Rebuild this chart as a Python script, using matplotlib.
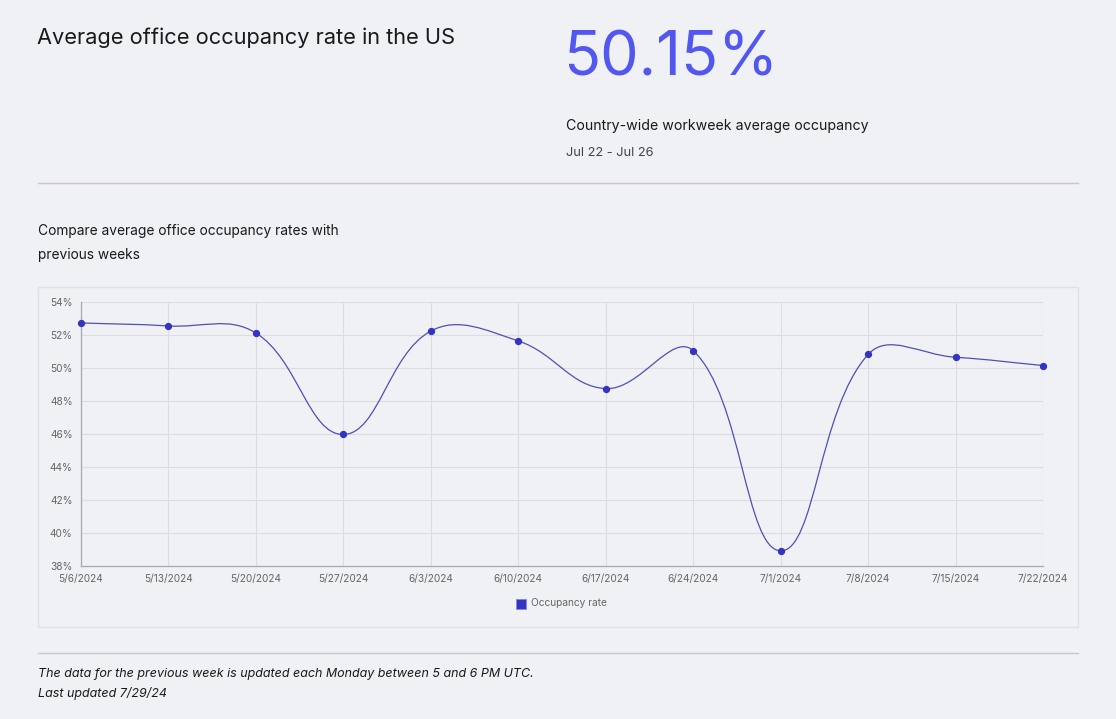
import numpy as np
import matplotlib
matplotlib.use("Agg")
import matplotlib.pyplot as plt
from matplotlib.patches import Rectangle
from matplotlib.path import Path
from matplotlib.patches import PathPatch
from matplotlib.lines import Line2D

weeks = ["5/6/2024", "5/13/2024", "5/20/2024", "5/27/2024", "6/3/2024", "6/10/2024",
         "6/17/2024", "6/24/2024", "7/1/2024", "7/8/2024", "7/15/2024", "7/22/2024"]
occupancy = [52.73, 52.55, 52.12, 45.97, 52.24, 51.64, 48.75, 51.05, 38.92, 50.82, 50.65, 50.15]
y_ticks = [38, 40, 42, 44, 46, 48, 50, 52, 54]

BG = "#f0f1f5"
LINE = "#4f4fb8"
DOT = "#3434c4"
plt.rcParams["font.family"] = ["Inter", "DejaVu Sans"]

W, H = 1116, 719
fig = plt.figure(figsize=(W / 100, H / 100), dpi=100, facecolor=BG)


def fx(px):
    return px / W


def fy(py):
    return 1 - py / H


# header
fig.text(fx(37), fy(38), "Average office occupancy rate in the US", fontsize=15.7,
         color="#1a1a1a", va="center", ha="left")
fig.text(fx(563), fy(60), "50.15%", fontsize=44, color="#5257ef", va="center", ha="left")
fig.text(fx(566), fy(126), "Country-wide workweek average occupancy", fontsize=10.2,
         color="#1a1a1a", va="center", ha="left")
fig.text(fx(566), fy(153), "Jul 22 - Jul 26", fontsize=9.2, color="#444444",
         va="center", ha="left")
fig.add_artist(Line2D([fx(38), fx(1078)], [fy(183), fy(183)], color="#c8c8cc", lw=1))

fig.text(fx(38), fy(231), "Compare average office occupancy rates with", fontsize=9.9,
         color="#1a1a1a", va="center", ha="left")
fig.text(fx(38), fy(255), "previous weeks", fontsize=9.9, color="#1a1a1a",
         va="center", ha="left")

# chart box (behind the axes)
box = Rectangle((fx(38), fy(627)), fx(1078 - 38), (627 - 287) / H,
                transform=fig.transFigure, fc=BG, ec="#e0e1e6", lw=1, zorder=-5)
fig.add_artist(box)

ax = fig.add_axes([fx(81), fy(566), fx(1043 - 81), (566 - 302) / H])
ax.set_facecolor("none")
x = np.arange(len(weeks))
ax.set_xlim(0, len(weeks) - 1)
ax.set_ylim(38, 54)
ax.set_xticks(x)
ax.set_xticklabels(weeks)
ax.set_yticks(y_ticks)
ax.set_yticklabels([f"{v}%" for v in y_ticks])
ax.tick_params(length=0, labelsize=7.3, colors="#666666")
ax.tick_params(axis="x", pad=6)
ax.tick_params(axis="y", pad=6)
ax.grid(True, color="#dcdce2", lw=0.8)
ax.set_axisbelow(True)
for side in ["top", "right"]:
    ax.spines[side].set_visible(False)
for side in ["left", "bottom"]:
    ax.spines[side].set_color("#a8a8ae")
    ax.spines[side].set_linewidth(0.9)
ax.axvline(len(weeks) - 1, color="#dcdce2", lw=0.8, zorder=0)

# Chart.js-style cubic spline (tension 0.4) computed in pixel space
pts = ax.transData.transform(np.column_stack([x, occupancy]))
t = 0.4
n = len(pts)
cp_prev = np.zeros_like(pts)
cp_next = np.zeros_like(pts)
for i in range(n):
    p0 = pts[max(i - 1, 0)]
    p1 = pts[i]
    p2 = pts[min(i + 1, n - 1)]
    d01 = np.hypot(*(p1 - p0))
    d12 = np.hypot(*(p2 - p1))
    s = d01 + d12
    s01 = d01 / s if s else 0
    s12 = d12 / s if s else 0
    cp_prev[i] = p1 - t * s01 * (p2 - p0)
    cp_next[i] = p1 + t * s12 * (p2 - p0)
verts = [pts[0]]
codes = [Path.MOVETO]
for i in range(n - 1):
    verts += [cp_next[i], cp_prev[i + 1], pts[i + 1]]
    codes += [Path.CURVE4] * 3
inv = ax.transData.inverted()
verts = inv.transform(np.array(verts))
ax.add_patch(PathPatch(Path(verts, codes), fc="none", ec=LINE, lw=0.9, zorder=3))
ax.scatter(x, occupancy, s=18, color=DOT, zorder=4, clip_on=False)

# legend
fig.add_artist(Rectangle((fx(516), fy(609)), fx(10), 10 / H, transform=fig.transFigure,
                         fc=DOT, ec="#8888dd", lw=0.6))
fig.text(fx(531), fy(603.5), "Occupancy rate", fontsize=7.3, color="#666666",
         va="center", ha="left")

# footer
fig.add_artist(Line2D([fx(38), fx(1078)], [fy(653), fy(653)], color="#c8c8cc", lw=1))
fig.text(fx(38), fy(674), "The data for the previous week is updated each Monday between 5 and 6 PM UTC.",
         fontsize=9.0, style="italic", color="#1a1a1a", va="center", ha="left")
fig.text(fx(38), fy(693), "Last updated 7/29/24", fontsize=9.0, style="italic",
         color="#1a1a1a", va="center", ha="left")

fig.savefig("out.png", dpi=100, facecolor=BG)
